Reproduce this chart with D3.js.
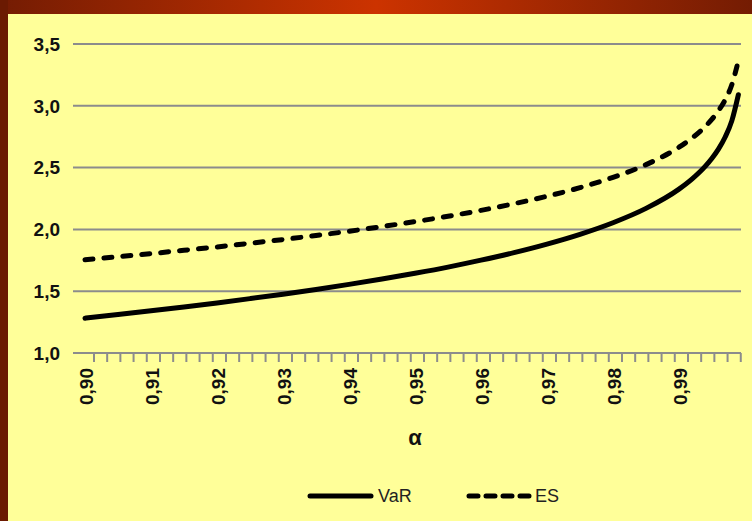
<!DOCTYPE html>
<html>
<head>
<meta charset="utf-8">
<script src="https://cdn.jsdelivr.net/npm/d3@7/dist/d3.min.js"></script>
<style>
  body { margin: 0; background: #ffff99; }
  svg { display: block; }
</style>
</head>
<body>
<svg width="752" height="521"></svg>
<script>
// confidence levels and the two risk measures
var alpha = [0.900, 0.905, 0.910, 0.915, 0.920, 0.925, 0.930, 0.935, 0.940, 0.945,
             0.950, 0.955, 0.960, 0.965, 0.970, 0.975, 0.980, 0.985, 0.990, 0.992,
             0.994, 0.995, 0.996, 0.997, 0.998, 0.999];
var varValues = [1.282, 1.311, 1.341, 1.372, 1.405, 1.440, 1.476, 1.514, 1.555, 1.598,
                 1.645, 1.695, 1.751, 1.812, 1.881, 1.960, 2.054, 2.170, 2.326, 2.409,
                 2.512, 2.576, 2.652, 2.748, 2.878, 3.090];
var esValues = [1.755, 1.779, 1.804, 1.831, 1.858, 1.888, 1.918, 1.951, 1.985, 2.023,
                2.063, 2.106, 2.154, 2.208, 2.268, 2.338, 2.421, 2.524, 2.665, 2.740,
                2.834, 2.892, 2.962, 3.049, 3.170, 3.367];
var xTickLabels = [0.90, 0.91, 0.92, 0.93, 0.94, 0.95, 0.96, 0.97, 0.98, 0.99];
var yTickLabels = [1.0, 1.5, 2.0, 2.5, 3.0, 3.5];

var svg = d3.select("svg");
var plot = { left: 73, right: 741, top: 44, bottom: 353 };

var x = d3.scaleLinear().domain([0.90, 0.99]).range([85, 679]);
var y = d3.scaleLinear().domain([1, 3.5]).range([plot.bottom, plot.top]);
var fmt = function(v, d) { return v.toFixed(d).replace(".", ","); };

// frame: top gradient band and dark left strip
var grad = svg.append("defs").append("linearGradient").attr("id", "band");
grad.append("stop").attr("offset", "0%").attr("stop-color", "#741c03");
grad.append("stop").attr("offset", "50%").attr("stop-color", "#cc3300");
grad.append("stop").attr("offset", "100%").attr("stop-color", "#741c03");
svg.append("rect").attr("x", 0).attr("y", 0).attr("width", 752).attr("height", 521).attr("fill", "#ffff99");
svg.append("rect").attr("x", 0).attr("y", 0).attr("width", 752).attr("height", 14).attr("fill", "url(#band)");
svg.append("rect").attr("x", 0).attr("y", 0).attr("width", 8).attr("height", 521).attr("fill", "#6b1a02");

// gridlines
svg.append("g").selectAll("line")
    .data(yTickLabels.slice(1))
    .enter().append("line")
    .attr("x1", plot.left).attr("x2", plot.right)
    .attr("y1", function(d) { return y(d); })
    .attr("y2", function(d) { return y(d); })
    .attr("stroke", "#8c8c8c").attr("stroke-width", 2);

// y labels
svg.append("g").selectAll("text")
    .data(yTickLabels)
    .enter().append("text")
    .attr("x", 60)
    .attr("y", function(d) { return y(d); })
    .attr("dy", "0.36em")
    .attr("text-anchor", "end")
    .attr("font-family", "Liberation Sans, Arial, sans-serif")
    .attr("font-size", 19)
    .attr("font-weight", "bold")
    .attr("fill", "#111")
    .text(function(d) { return fmt(d, 1); });

// x axis line and tick marks (every 0.002)
svg.append("line")
    .attr("x1", plot.left).attr("x2", plot.right)
    .attr("y1", plot.bottom).attr("y2", plot.bottom)
    .attr("stroke", "#8c8c8c").attr("stroke-width", 2);
var minorTicks = d3.range(50).map(function(k) { return 0.90136 + 0.002 * k; });
svg.append("g").selectAll("line")
    .data(minorTicks)
    .enter().append("line")
    .attr("x1", function(d) { return x(d); })
    .attr("x2", function(d) { return x(d); })
    .attr("y1", plot.bottom).attr("y2", plot.bottom + 9)
    .attr("stroke", "#8c8c8c").attr("stroke-width", 2);

// rotated x labels
svg.append("g").selectAll("text")
    .data(xTickLabels)
    .enter().append("text")
    .attr("transform", function(d) { return "translate(" + (x(d) + 1) + ",368) rotate(-90)"; })
    .attr("dy", "0.36em")
    .attr("text-anchor", "end")
    .attr("font-family", "Liberation Sans, Arial, sans-serif")
    .attr("font-size", 19)
    .attr("font-weight", "bold")
    .attr("fill", "#111")
    .text(function(d) { return fmt(d, 2); });

svg.append("text")
    .attr("x", 415).attr("y", 437)
    .attr("dy", "0.36em")
    .attr("text-anchor", "middle")
    .attr("font-family", "Liberation Sans, Arial, sans-serif")
    .attr("font-size", 22)
    .attr("font-weight", "bold")
    .attr("fill", "#111")
    .text("α");

// curves
var line = d3.line()
    .x(function(d) { return x(d[0]); })
    .y(function(d) { return y(d[1]); })
    .curve(d3.curveMonotoneX);

svg.append("path")
    .datum(d3.zip(alpha, varValues))
    .attr("d", line)
    .attr("fill", "none")
    .attr("stroke", "#000")
    .attr("stroke-width", 5)
    .attr("stroke-linecap", "round");

svg.append("path")
    .datum(d3.zip(alpha, esValues))
    .attr("d", line)
    .attr("fill", "none")
    .attr("stroke", "#000")
    .attr("stroke-width", 5)
    .attr("stroke-linecap", "round")
    .attr("stroke-dasharray", "8,11");

// legend
var legend = svg.append("g")
    .attr("font-family", "Liberation Sans, Arial, sans-serif")
    .attr("font-size", 18)
    .attr("fill", "#222");
legend.append("line")
    .attr("x1", 310).attr("x2", 371).attr("y1", 496).attr("y2", 496)
    .attr("stroke", "#000").attr("stroke-width", 5).attr("stroke-linecap", "round");
legend.append("text").attr("x", 378).attr("y", 502).text("VaR");
legend.append("line")
    .attr("x1", 469).attr("x2", 530).attr("y1", 496).attr("y2", 496)
    .attr("stroke", "#000").attr("stroke-width", 5).attr("stroke-linecap", "round")
    .attr("stroke-dasharray", "9,8");
legend.append("text").attr("x", 535).attr("y", 502).text("ES");
</script>
</body>
</html>
